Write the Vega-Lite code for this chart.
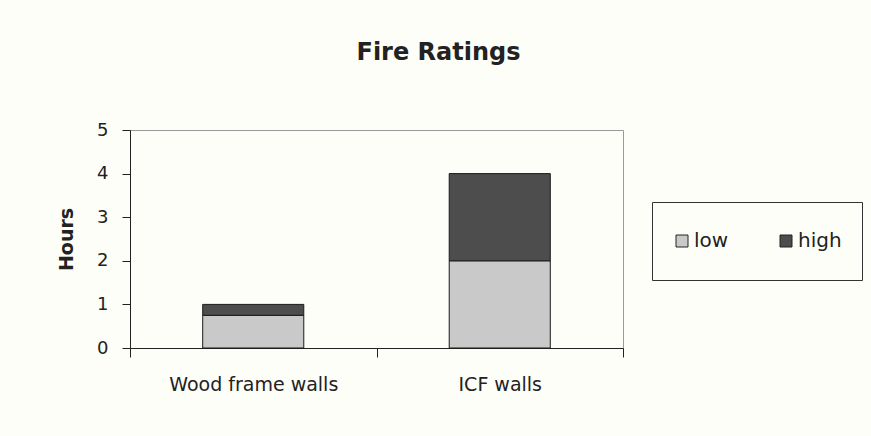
{
  "$schema": "https://vega.github.io/schema/vega-lite/v6.json",
  "width": 493,
  "height": 218,
  "autosize": "none",
  "padding": {"left": 130, "top": 130, "right": 248, "bottom": 88},
  "background": "#fefef9",
  "title": {
    "text": "Fire Ratings",
    "font": "DejaVu Sans",
    "fontSize": 24,
    "fontWeight": "bold",
    "color": "#222222",
    "anchor": "middle",
    "frame": "group",
    "dx": 62,
    "offset": 56
  },
  "data": {
    "values": [
      {"wall": "Wood frame walls", "level": "low", "rank": 1, "hours": 0.75},
      {"wall": "Wood frame walls", "level": "high", "rank": 2, "hours": 0.25},
      {"wall": "ICF walls", "level": "low", "rank": 1, "hours": 2},
      {"wall": "ICF walls", "level": "high", "rank": 2, "hours": 2}
    ]
  },
  "mark": {"type": "bar", "stroke": "#1a1a1a", "strokeWidth": 1, "width": {"band": 0.41}},
  "encoding": {
    "x": {
      "field": "wall",
      "type": "nominal",
      "sort": ["Wood frame walls", "ICF walls"],
      "scale": {"paddingInner": 0, "paddingOuter": 0},
      "axis": {
        "title": null,
        "labelAngle": 0,
        "tickBand": "extent",
        "tickSize": 9,
        "tickColor": "#222222",
        "domainColor": "#222222",
        "labelFont": "DejaVu Sans",
        "labelFontSize": 19,
        "labelColor": "#222222",
        "labelPadding": 18,
        "grid": false
      }
    },
    "y": {
      "field": "hours",
      "type": "quantitative",
      "stack": "zero",
      "scale": {"domain": [0, 5]},
      "axis": {
        "title": "Hours",
        "values": [0, 1, 2, 3, 4, 5],
        "grid": false,
        "tickSize": 8,
        "labelPadding": 14,
        "titleFont": "DejaVu Sans",
        "titleFontSize": 19,
        "titleFontWeight": "bold",
        "titleColor": "#222222",
        "titlePadding": 20,
        "domainColor": "#222222",
        "tickColor": "#222222",
        "labelFont": "DejaVu Sans",
        "labelFontSize": 18,
        "labelColor": "#222222"
      }
    },
    "color": {
      "field": "level",
      "type": "nominal",
      "scale": {"domain": ["low", "high"], "range": ["#c9c9c9", "#4d4d4d"]},
      "legend": {
        "title": null,
        "orient": "none",
        "legendX": 522,
        "legendY": 72,
        "direction": "horizontal",
        "strokeColor": "#333333",
        "padding": 20,
        "symbolType": "square",
        "symbolSize": 144,
        "symbolStrokeColor": "#222222",
        "symbolStrokeWidth": 1,
        "symbolOpacity": 1,
        "labelFont": "DejaVu Sans",
        "labelFontSize": 20,
        "labelColor": "#222222",
        "columnPadding": 47,
        "labelOffset": 2,
        "clipHeight": 38
      }
    },
    "order": {"field": "rank", "type": "quantitative"}
  },
  "config": {"view": {"stroke": "#9a9a9a", "strokeWidth": 1}}
}
